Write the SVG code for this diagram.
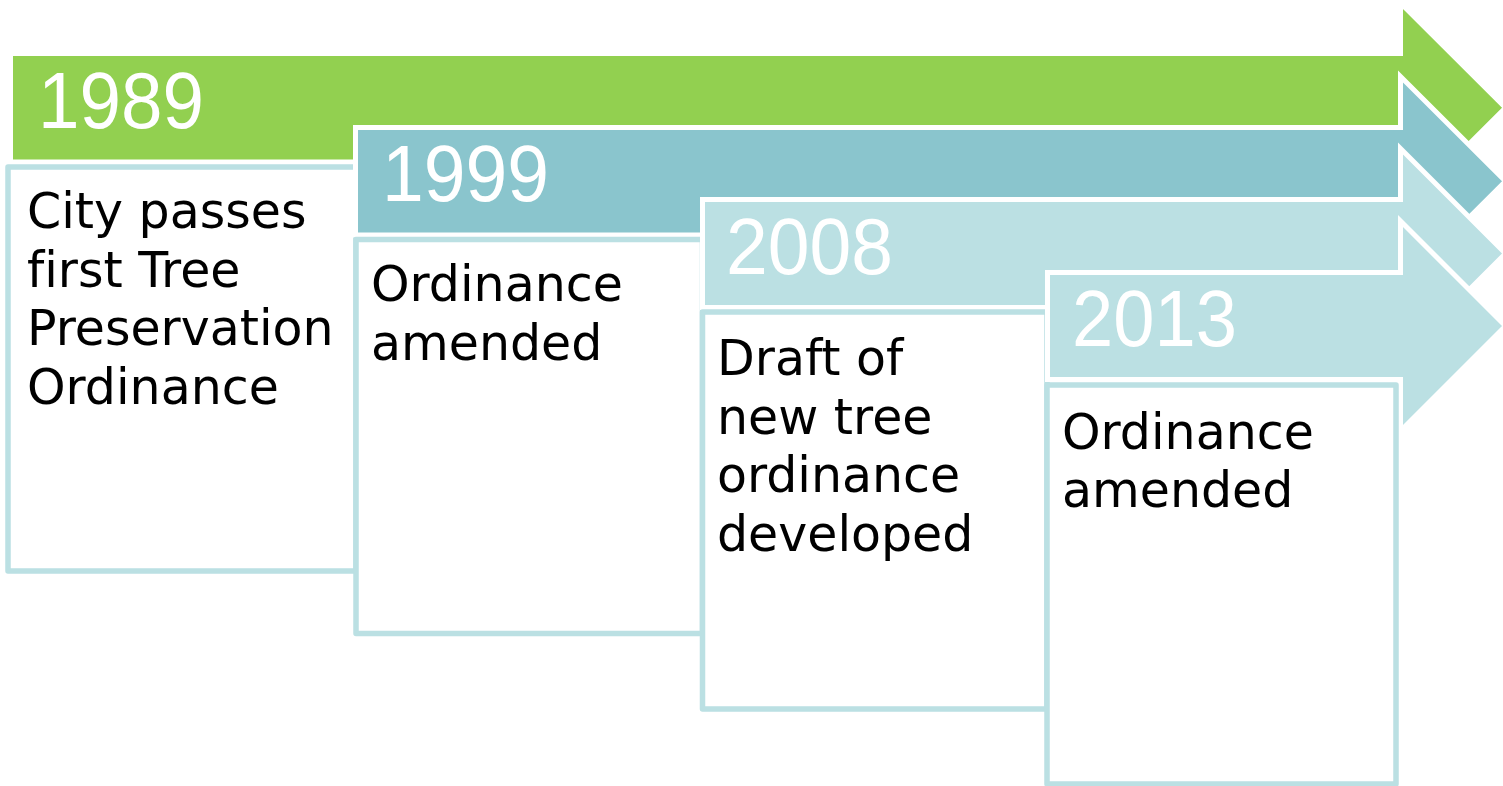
<svg xmlns="http://www.w3.org/2000/svg" width="1503" height="786" viewBox="0 0 1503 786">
<style>
.arrow{stroke:#FFFFFF;stroke-width:5;stroke-linejoin:miter;stroke-miterlimit:4}
.a1{fill:#92D050}
.a2{fill:#8AC5CD}
.a3{fill:#BBE0E3}
.box{fill:#FFFFFF;stroke:#BBE0E3;stroke-width:5.5;stroke-linejoin:round}
.year{font-family:"Liberation Sans","DejaVu Sans",sans-serif;font-size:80px;fill:#FFFFFF}
.body{font-family:"DejaVu Sans","Liberation Sans",sans-serif;font-size:49px;fill:#000000;font-variant-ligatures:none}
</style>
<rect width="1503" height="786" fill="#FFFFFF"/>
<g id="node-1989">
<path class="arrow a1" d="M10.5,53.5 H1400.5 V3 L1505.5,107.75 L1400.5,212.5 V162 H10.5 Z"/>
<text class="year" x="38" y="128" textLength="166" lengthAdjust="spacingAndGlyphs">1989</text>
</g>
<g id="box-1989">
<rect class="box" x="8" y="167" width="348" height="404"/>
<text class="body" x="27" y="228">City passes</text>
<text class="body" x="27" y="286.5">first Tree</text>
<text class="body" x="27" y="345">Preservation</text>
<text class="body" x="27" y="403.5">Ordinance</text>
</g>
<g id="node-1999">
<path class="arrow a2" d="M355.5,127.5 H1400.5 V76.5 L1505.5,181.25 L1400.5,286 V235 H355.5 Z"/>
<text class="year" x="382" y="201" textLength="167" lengthAdjust="spacingAndGlyphs">1999</text>
</g>
<g id="box-1999">
<rect class="box" x="356" y="239.5" width="346.5" height="394"/>
<text class="body" x="371" y="301">Ordinance</text>
<text class="body" x="371" y="359.5">amended</text>
</g>
<g id="node-2008">
<path class="arrow a3" d="M702.5,199.5 H1400.5 V148.5 L1505.5,253.5 L1400.5,358.5 V307.5 H702.5 Z"/>
<text class="year" x="726" y="274" textLength="167" lengthAdjust="spacingAndGlyphs">2008</text>
</g>
<g id="box-2008">
<rect class="box" x="702.5" y="312" width="344.5" height="397"/>
<text class="body" x="717" y="375">Draft of</text>
<text class="body" x="717" y="433.5">new tree</text>
<text class="body" x="717" y="492">ordinance</text>
<text class="body" x="717" y="550.5">developed</text>
</g>
<g id="node-2013">
<path class="arrow a3" d="M1047.5,272.5 H1400.5 V221 L1505.5,326 L1400.5,431 V379.5 H1047.5 Z"/>
<text class="year" x="1072" y="346" textLength="165" lengthAdjust="spacingAndGlyphs">2013</text>
</g>
<g id="box-2013">
<rect class="box" x="1047" y="385" width="349" height="399"/>
<text class="body" x="1062" y="448.5">Ordinance</text>
<text class="body" x="1062" y="507">amended</text>
</g>
<g id="connectors"></g>
</svg>
